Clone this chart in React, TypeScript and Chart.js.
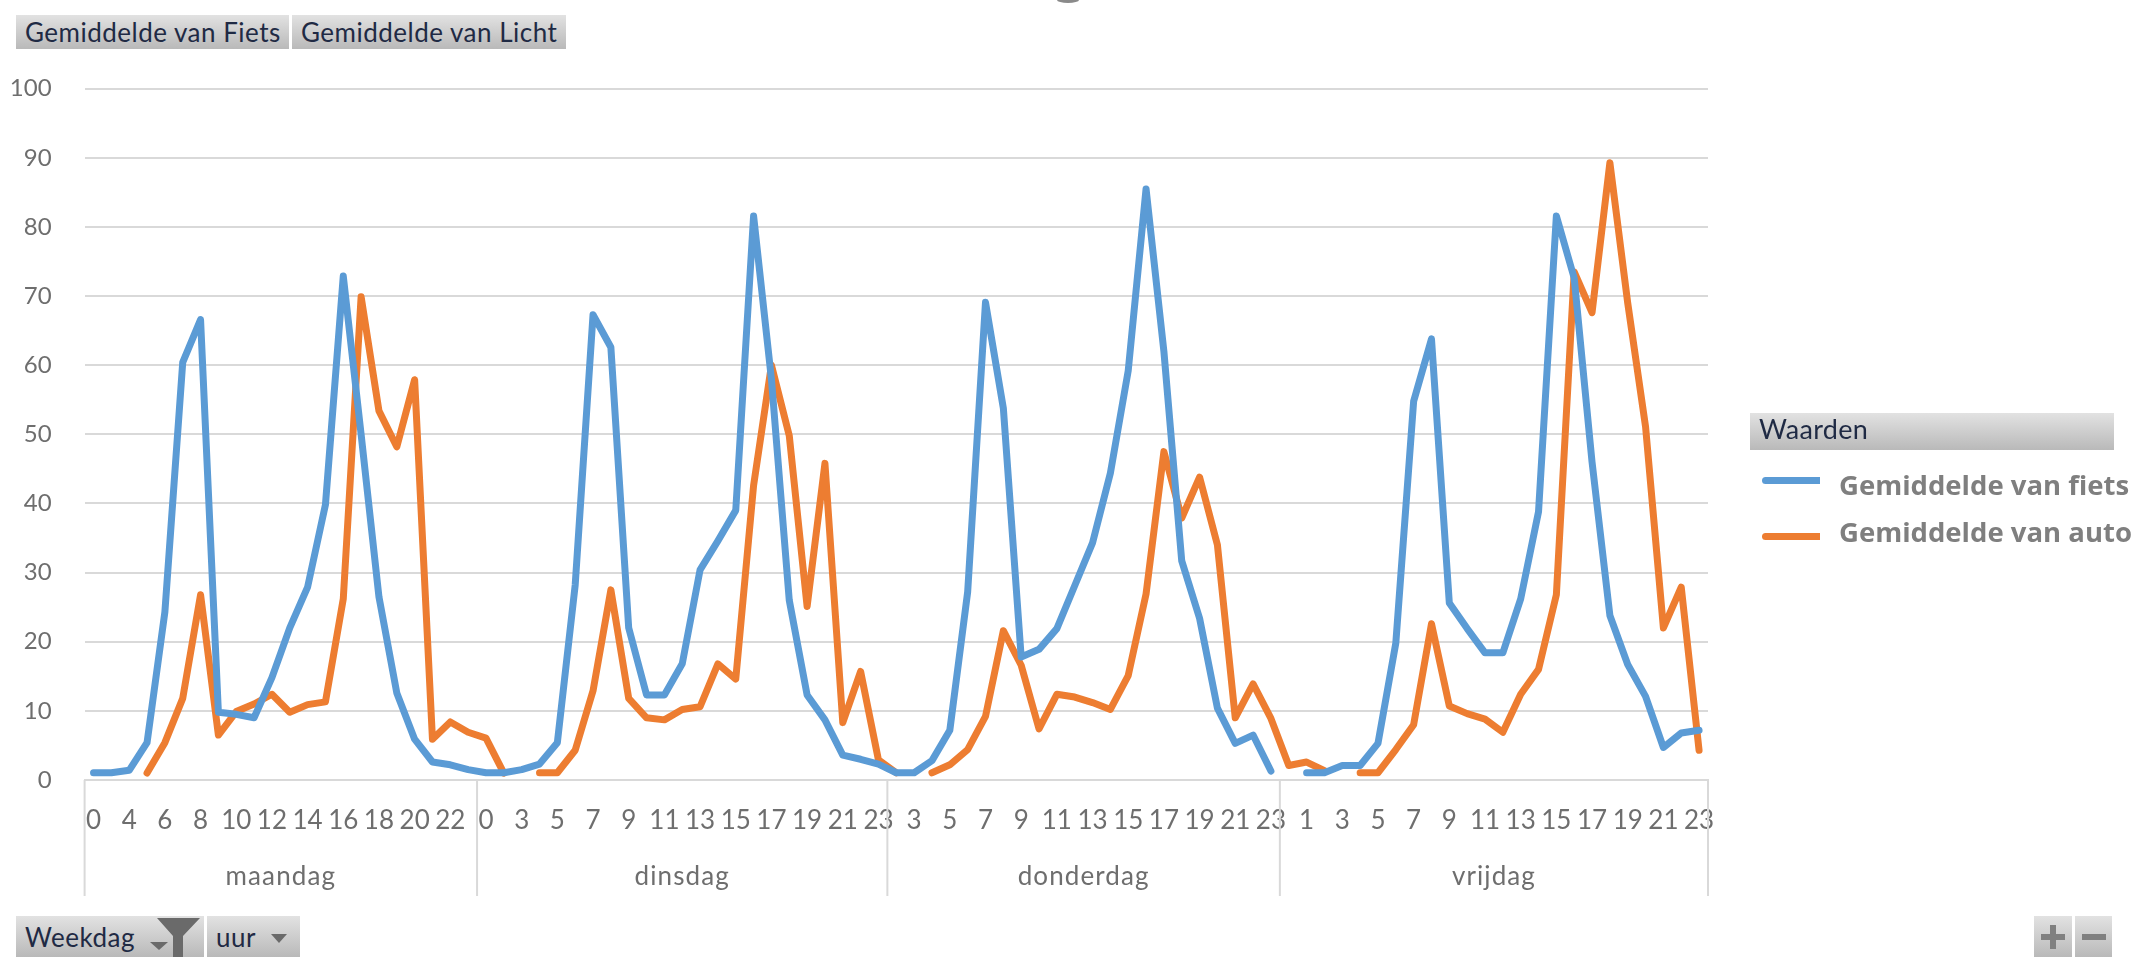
import React, { useEffect, useRef } from "react";
import { Chart, registerables } from "chart.js";

Chart.register(...registerables);

const FONT = "Lato, sans-serif";
const LEGEND_FONT = "'Open Sans', Lato, sans-serif";

const days = ["maandag", "dinsdag", "donderdag", "vrijdag"];
const hoursMaandag = [0, 1, 4, 5, 6, 7, 8, 9, 10, 11, 12, 13, 14, 15, 16, 17, 18, 19, 20, 21, 22, 23];
const hoursDinsdag = [0, 2, 3, 4, 5, 6, 7, 8, 9, 10, 11, 12, 13, 14, 15, 16, 17, 18, 19, 20, 21, 22, 23];
const hoursDonderdag = [2, 3, 4, 5, 6, 7, 8, 9, 10, 11, 12, 13, 14, 15, 16, 17, 18, 19, 20, 21, 22, 23];
const hoursVrijdag = [0, 1, 2, 3, 4, 5, 6, 7, 8, 9, 10, 11, 12, 13, 14, 15, 16, 17, 18, 19, 20, 21, 22, 23];

const fietsMaandag = [1.05, 1.05, 1.4, 5.4, 24.3, 60.4, 66.6, 9.8, 9.5, 9, 14.8, 22, 27.9, 39.8, 72.9, 50, 26.5, 12.6, 5.9, 2.6, 2.2, 1.5];
const fietsDinsdag = [1.05, 1.05, 1.5, 2.3, 5.4, 28.2, 67.3, 62.6, 22, 12.3, 12.3, 16.8, 30.4, 34.6, 39, 81.6, 58, 26, 12.3, 8.7, 3.6, 3, 2.3];
const fietsDonderdag = [1.05, 1.05, 2.8, 7.2, 27.2, 69.1, 53.8, 17.8, 18.9, 21.9, 28.1, 34.3, 44.4, 59.2, 85.5, 62, 31.7, 23.4, 10.4, 5.3, 6.5, 1.3];
const fietsVrijdag = [null, 1.05, 1.05, 2.1, 2.1, 5.3, 19.8, 54.8, 63.8, 25.6, 21.9, 18.4, 18.4, 26.2, 38.8, 81.6, 72.6, 46, 23.8, 16.7, 12.1, 4.7, 6.8, 7.2];

const autoMaandag = [null, null, null, 1, 5.4, 11.8, 26.8, 6.5, 9.9, 11, 12.4, 9.8, 10.9, 11.3, 26.2, 69.9, 53.4, 48.2, 57.9, 5.9, 8.4, 6.9];
const autoDinsdag = [6.05, 1, null, 1.05, 1.05, 4.3, 12.9, 27.5, 11.8, 9, 8.7, 10.2, 10.6, 16.8, 14.6, 42.6, 60, 49.8, 25.1, 45.8, 8.3, 15.7, 2.9];
const autoDonderdag = [1.05, null, 1.05, 2.2, 4.4, 9.2, 21.6, 16.6, 7.4, 12.4, 12, 11.2, 10.2, 15.1, 26.9, 47.5, 37.9, 43.8, 34, 9, 13.9, 8.9];
const autoVrijdag = [2.1, 2.6, 1.35, null, 1.05, 1.05, 4.4, 8, 22.6, 10.7, 9.6, 8.8, 6.9, 12.4, 16, 26.8, 73.5, 67.6, 89.3, 69, 51.1, 22, 27.9, 4.3];

const dayHours = [hoursMaandag, hoursDinsdag, hoursDonderdag, hoursVrijdag];
const hourLabels = dayHours.flat().map(String);
const fiets = [...fietsMaandag, ...fietsDinsdag, ...fietsDonderdag, ...fietsVrijdag];
const auto = [...autoMaandag, ...autoDinsdag, ...autoDonderdag, ...autoVrijdag];

const BLUE = "#5B9BD5";
const ORANGE = "#ED7D31";
const GRID = "#D9D9D9";
const TICK = "#6E6E6E";

const dayAxisPlugin = {
  id: "dayAxis",
  afterDraw(chart: any) {
    const { ctx, scales, chartArea } = chart;
    const x = scales.x;
    const bottom = 896;
    let start = 0;
    ctx.save();
    ctx.strokeStyle = GRID;
    ctx.lineWidth = 2;
    ctx.font = `26px ${FONT}`;
    ctx.letterSpacing = "1.1px";
    ctx.textAlign = "center";
    ctx.textBaseline = "middle";
    ctx.fillStyle = TICK;
    const line = (px: number) => {
      ctx.beginPath();
      ctx.moveTo(px, chartArea.bottom);
      ctx.lineTo(px, bottom);
      ctx.stroke();
    };
    line(x.getPixelForValue(-0.5));
    days.forEach((d, i) => {
      const end = start + dayHours[i].length;
      const l = x.getPixelForValue(start - 0.5);
      const r = x.getPixelForValue(end - 0.5);
      line(r);
      ctx.fillText(d, (l + r) / 2, 877);
      start = end;
    });
    ctx.restore();
  },
};

const grad = "linear-gradient(#E2E2E2, #B9B9B9)";
const btn = (left: number, top: number, width: number, height: number): React.CSSProperties => ({
  position: "absolute",
  left,
  top,
  width,
  height,
  background: grad,
  fontFamily: FONT,
  fontSize: 26,
  letterSpacing: "0.5px",
  color: "#1F2A44",
  display: "flex",
  alignItems: "center",
  paddingLeft: 9,
  boxSizing: "border-box",
  whiteSpace: "nowrap",
});
const legendRow = (top: number): React.CSSProperties => ({
  position: "absolute",
  left: 1839,
  top,
  fontFamily: LEGEND_FONT,
  fontWeight: 700,
  fontSize: 27.5,
  color: "#7F7F7F",
  whiteSpace: "nowrap",
  lineHeight: "34px",
});
const legendLine = (top: number, color: string): React.CSSProperties => ({
  position: "absolute",
  left: 1762,
  top,
  width: 58,
  height: 7,
  background: color,
  borderRadius: "4px 0 0 4px",
});
const ICON = "#6A6A6A";
const svgBox: React.CSSProperties = { position: "absolute", left: 0, top: 0, pointerEvents: "none" };

export default function App() {
  const ref = useRef<HTMLCanvasElement>(null);
  useEffect(() => {
    const chart = new Chart(ref.current!, {
      type: "line",
      plugins: [dayAxisPlugin],
      data: {
        labels: hourLabels,
        datasets: [
          { label: "Gemiddelde van fiets", data: fiets, borderColor: BLUE, backgroundColor: BLUE, borderWidth: 7, pointRadius: 0, tension: 0, borderCapStyle: "round", borderJoinStyle: "round", spanGaps: false },
          { label: "Gemiddelde van auto", data: auto, borderColor: ORANGE, backgroundColor: ORANGE, borderWidth: 7, pointRadius: 0, tension: 0, borderCapStyle: "round", borderJoinStyle: "round", spanGaps: false },
        ],
      },
      options: {
        animation: false,
        responsive: false,
        devicePixelRatio: 1,
        layout: { padding: { left: 0, top: 88.7, right: 431, bottom: 0 } },
        plugins: { legend: { display: false }, tooltip: { enabled: false }, title: { display: false } },
        scales: {
          x: {
            type: "category",
            offset: true,
            grid: { display: false, drawTicks: false },
            border: { color: GRID, width: 2 },
            afterFit: (s: any) => { s.height = 177; },
            ticks: {
              autoSkip: false,
              maxRotation: 0,
              minRotation: 0,
              padding: 25,
              color: TICK,
              font: { family: FONT, size: 26 },
              callback: (_v: any, i: number) => (i % 2 === 0 ? hourLabels[i] : ""),
            },
          },
          y: {
            min: 0,
            max: 100,
            grid: { color: GRID, lineWidth: 2, drawTicks: false },
            border: { display: false },
            afterFit: (s: any) => { s.width = 84.6; },
            ticks: {
              stepSize: 10,
              padding: 33,
              color: TICK,
              font: { family: FONT, size: 24 },
            },
          },
        },
      },
    } as any);
    return () => chart.destroy();
  }, []);
  return (
    <div style={{ position: "fixed", left: 0, top: 0, width: 2139, height: 957, background: "#fff", overflow: "hidden", filter: "blur(0.6px)" }}>
      <canvas ref={ref} width={2139} height={957} style={{ position: "absolute", left: 0, top: 0, display: "block" }} />
      <div style={btn(16, 15, 273, 34)}>Gemiddelde van Fiets</div>
      <div style={btn(292, 15, 274, 34)}>Gemiddelde van Licht</div>
      <div style={btn(16, 916, 188, 41)}>Weekdag</div>
      <div style={btn(207, 916, 93, 41)}>uur</div>
      <div style={btn(2034, 916, 38, 41)} />
      <div style={btn(2075, 916, 37, 41)} />
      <div style={{ ...btn(1750, 413, 364, 37), fontSize: 27, letterSpacing: "0.3px", alignItems: "flex-start", lineHeight: "32px" }}>Waarden</div>
      <div style={legendLine(477, BLUE)} />
      <div style={legendRow(468)}>Gemiddelde van fiets</div>
      <div style={legendLine(533, ORANGE)} />
      <div style={legendRow(515)}>Gemiddelde van auto</div>
      <svg width={2139} height={957} style={svgBox}>
        <ellipse cx={1068} cy={0} rx={11} ry={3} fill="#8A8A8A" />
        <polygon points="157,918 200,918 183,936 183,957 173,957 173,936" fill={ICON} />
        <polygon points="150,942 168,942 159,950" fill={ICON} />
        <polygon points="271,934 287,934 279,943" fill={ICON} />
        <rect x={2041} y={934} width={24} height={6} fill="#808080" />
        <rect x={2050} y={925} width={6} height={24} fill="#808080" />
        <rect x={2082} y={934} width={24} height={6} fill="#808080" />
      </svg>
    </div>
  );
}
